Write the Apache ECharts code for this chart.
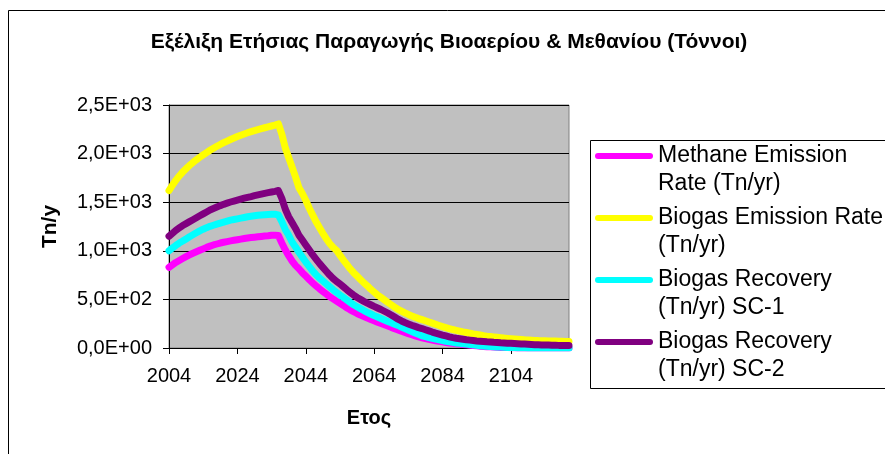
<!DOCTYPE html>
<html>
<head>
<meta charset="utf-8">
<script src="https://cdn.jsdelivr.net/npm/echarts@6/dist/echarts.min.js"></script>
<style>
html,body{margin:0;padding:0;background:#fff;}
#chart{width:885px;height:454px;}
</style>
</head>
<body>
<div id="chart"></div>
<script>
const firstYear = 2004;
const lastYear = 2121;
const years = [];
for (let y = firstYear; y <= lastYear; y++) years.push(String(y));

const seriesNames = [
  'Methane Emission\nRate (Tn/yr)',
  'Biogas Emission Rate\n(Tn/yr)',
  'Biogas Recovery\n(Tn/yr) SC-1',
  'Biogas Recovery\n(Tn/yr) SC-2'
];

const methaneEmission = [
  830, 855, 880, 900, 920, 940, 958, 975, 990, 1005,
  1020, 1035, 1048, 1060, 1070, 1080, 1088, 1095, 1102, 1108,
  1114, 1120, 1126, 1131, 1136, 1140, 1144, 1148, 1152, 1155,
  1160, 1160, 1158, 1080, 1010, 950, 895, 850, 815, 775,
  740, 705, 670, 640, 610, 582, 555, 528, 505, 482,
  460, 438, 414, 392, 373, 355, 338, 323, 308, 294,
  280, 265, 252, 240, 227, 212, 198, 186, 172, 160,
  148, 136, 125, 114, 105, 97, 89, 82, 75, 69,
  63, 57, 52, 48, 44, 40, 36, 32, 28, 25,
  22, 19, 16, 14, 12, 10, 8, 6, 5, 4,
  3, 2, 1, 0, 0, 0, 0, 0, 0, 0,
  0, 0, 0, 0, 0, 0, 0, 0
];

const biogasEmission = [
  1620, 1675, 1725, 1770, 1810, 1845, 1878, 1908, 1936, 1962,
  1987, 2011, 2034, 2055, 2075, 2094, 2112, 2129, 2145, 2160,
  2175, 2189, 2202, 2214, 2226, 2237, 2247, 2257, 2266, 2275,
  2284, 2293, 2305, 2200, 2060, 1960, 1860, 1760, 1650, 1590,
  1520, 1440, 1370, 1300, 1240, 1180, 1125, 1075, 1035, 1005,
  955, 905, 860, 815, 775, 740, 705, 670, 640, 605,
  575, 545, 520, 495, 470, 445, 420, 398, 380, 362,
  345, 330, 316, 303, 292, 280, 268, 256, 244, 232,
  220, 209, 199, 190, 182, 174, 166, 159, 152, 145,
  139, 133, 127, 122, 118, 114, 110, 106, 102, 99,
  96, 93, 90, 87, 84, 82, 80, 78, 76, 75,
  74, 73, 72, 71, 70, 69, 68, 67
];

const recoverySC1 = [
  1000, 1028, 1055, 1080, 1100, 1122, 1145, 1165, 1185, 1205,
  1222, 1238, 1252, 1263, 1274, 1285, 1295, 1305, 1315, 1322,
  1329, 1336, 1343, 1350, 1355, 1360, 1365, 1369, 1372, 1374,
  1376, 1376, 1370, 1300, 1220, 1160, 1090, 1040, 985, 935,
  885, 840, 795, 755, 720, 690, 660, 630, 600, 572,
  545, 520, 495, 468, 445, 425, 405, 385, 367, 350,
  333, 318, 303, 288, 273, 260, 245, 232, 215, 200,
  185, 170, 155, 140, 125, 116, 107, 99, 91, 84,
  77, 70, 64, 58, 52, 48, 44, 40, 36, 32,
  28, 24, 21, 18, 15, 13, 11, 9, 8, 6,
  5, 4, 3, 2, 2, 1, 1, 0, 0, 0,
  0, 0, 0, 0, 0, 0, 0, 0
];

const recoverySC2 = [
  1150, 1180, 1210, 1235, 1260, 1280, 1300, 1320, 1340, 1360,
  1380, 1400, 1420, 1435, 1450, 1465, 1478, 1490, 1502, 1512,
  1522, 1532, 1541, 1550, 1558, 1567, 1575, 1583, 1591, 1598,
  1605, 1612, 1620, 1540, 1430, 1350, 1290, 1230, 1160, 1110,
  1060, 1010, 960, 915, 870, 830, 790, 750, 715, 685,
  660, 630, 600, 572, 545, 520, 500, 480, 462, 445,
  428, 412, 396, 378, 360, 340, 318, 296, 278, 262,
  248, 234, 222, 210, 200, 188, 176, 164, 153, 143,
  133, 124, 115, 107, 100, 95, 90, 85, 81, 77,
  73, 70, 67, 64, 62, 59, 57, 54, 52, 50,
  48, 46, 44, 42, 40, 38, 36, 34, 33, 32,
  31, 30, 29, 28, 27, 27, 26, 26
];

const yTickLabels = ['0,0E+00', '5,0E+02', '1,0E+03', '1,5E+03', '2,0E+03', '2,5E+03'];
const yStep = 500;

const FONT = '"Liberation Sans", Arial, sans-serif';
const colors = ['#FF00FF', '#FFFF00', '#00FFFF', '#800080'];
const seriesData = [methaneEmission, biogasEmission, recoverySC1, recoverySC2];

const chart = echarts.init(document.getElementById('chart'), null, {renderer: 'canvas'});

const option = {
  backgroundColor: '#ffffff',
  animation: false,
  title: {
    text: 'Εξέλιξη Ετήσιας Παραγωγής Βιοαερίου & Μεθανίου (Τόννοι)',
    left: 449,
    top: 32,
    textAlign: 'center',
    padding: 0,
    textStyle: {fontFamily: FONT, fontSize: 21, fontWeight: 'bold', color: '#000'}
  },
  grid: {
    left: 169, top: 105, width: 400, height: 243,
    show: true, backgroundColor: '#C0C0C0', borderColor: '#808080', borderWidth: 1
  },
  legend: {
    orient: 'vertical',
    left: 595,
    top: 114,
    padding: 0,
    itemGap: -22,
    itemWidth: 58,
    itemHeight: 7,
    icon: 'path://M3,0 L55,0 A3,3 0 0 1 55,6 L3,6 A3,3 0 0 1 3,0 Z',
    selectedMode: false,
    formatter: function (name) { return '\n' + name; },
    textStyle: {fontFamily: FONT, fontSize: 23, lineHeight: 28, color: '#000'},
    data: seriesNames
  },
  xAxis: {
    type: 'category',
    data: years,
    boundaryGap: false,
    name: 'Ετος',
    nameLocation: 'middle',
    nameGap: 60,
    nameTextStyle: {fontFamily: FONT, fontSize: 20, fontWeight: 'bold', color: '#000'},
    axisLine: {show: true, onZero: false, lineStyle: {color: '#000', width: 1}},
    axisTick: {show: true, interval: 19, length: 6, lineStyle: {color: '#000'}},
    axisLabel: {interval: 19, fontFamily: FONT, fontSize: 20, color: '#000', margin: 18},
    splitLine: {show: false}
  },
  yAxis: {
    type: 'value',
    min: 0,
    max: 2500,
    interval: yStep,
    name: 'Tn/y',
    nameLocation: 'middle',
    nameRotate: 90,
    nameGap: 108,
    nameTextStyle: {fontFamily: FONT, fontSize: 21, fontWeight: 'bold', color: '#000'},
    axisLine: {show: true, lineStyle: {color: '#000', width: 1}},
    axisTick: {show: true, length: 6, lineStyle: {color: '#000'}},
    axisLabel: {
      fontFamily: FONT, fontSize: 20, color: '#000', margin: 17,
      formatter: function (v) { return yTickLabels[Math.round(v / yStep)]; }
    },
    splitLine: {show: true, lineStyle: {color: '#000', width: 1}}
  },
  graphic: [
    {type: 'rect', silent: true, z: 0,
     shape: {x: 8.5, y: 10.5, width: 900, height: 460},
     style: {fill: 'none', stroke: '#000', lineWidth: 1}},
    {type: 'rect', silent: true, z: 0,
     shape: {x: 590.5, y: 140.5, width: 300, height: 248},
     style: {fill: 'none', stroke: '#000', lineWidth: 1}}
  ],
  series: seriesData.map(function (d, i) {
    return {
      name: seriesNames[i],
      type: 'line',
      data: d,
      showSymbol: false,
      symbol: 'none',
      color: colors[i],
      lineStyle: {color: colors[i], width: 7, cap: 'round', join: 'round'},
      emphasis: {disabled: true}
    };
  })
};

chart.setOption(option);
</script>
</body>
</html>
